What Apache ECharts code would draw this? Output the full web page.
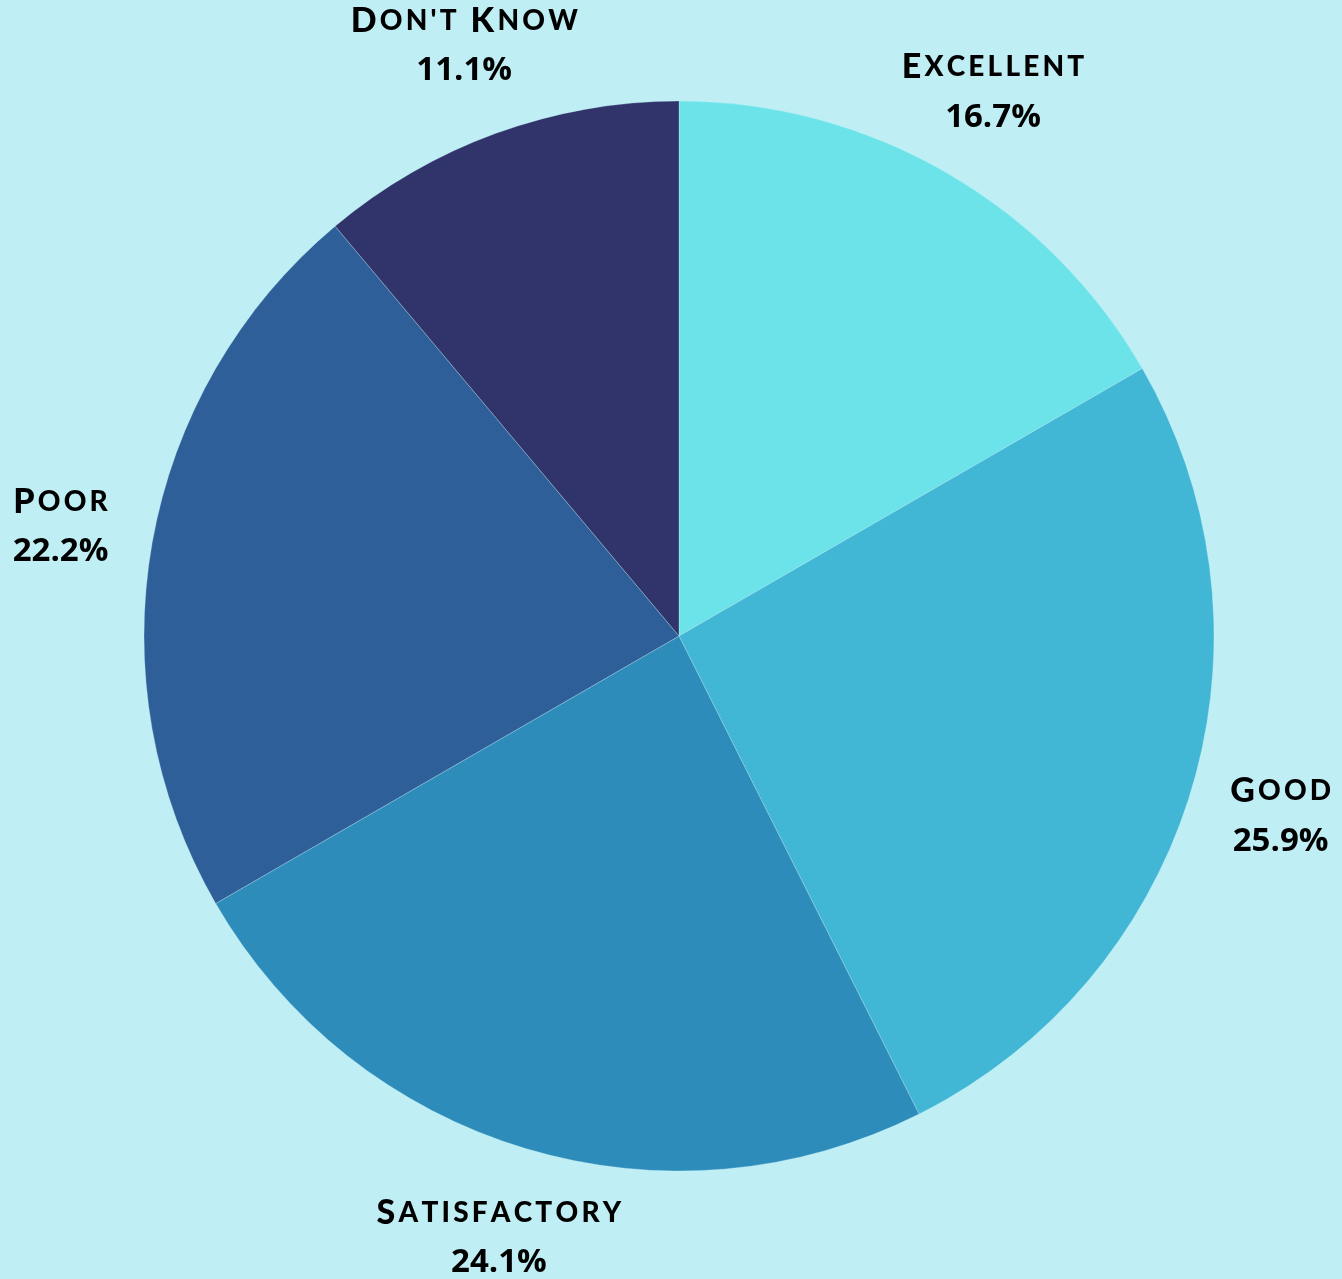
<!DOCTYPE html>
<html>
<head>
<meta charset="utf-8">
<script src="https://cdn.jsdelivr.net/npm/echarts@6/dist/echarts.min.js"></script>
<style>
  html, body { margin: 0; padding: 0; background: #BFEFF5; }
  #chart { width: 1342px; height: 1279px; }
</style>
</head>
<body>
<div id="chart"></div>
<script>
// Survey ratings (response counts)
const categories = ['Excellent', 'Good', 'Satisfactory', 'Poor', "Don't Know"];
const counts = [9, 14, 13, 12, 6];
const colors = ['#6BE3E8', '#42B6D5', '#2E8CBA', '#2E5F98', '#30346B'];

const total = counts.reduce((a, b) => a + b, 0);
const pieData = categories.map((name, i) => ({ name, value: counts[i] }));

// Render a name in spaced small caps: capitals large, lower case as smaller capitals
function smallCaps(text) {
  let out = '';
  for (const ch of text) {
    if (ch === ' ') { out += '{sp| }'; continue; }
    if (ch >= 'A' && ch <= 'Z') out += '{cap|' + ch + '}';
    else out += '{sc|' + ch.toUpperCase() + '}';
  }
  return out;
}

const NAME_FONT = 'Lato, "Open Sans", sans-serif';
const PCT_FONT = '"Open Sans", Lato, sans-serif';
const base = { color: '#000', lineHeight: 50 };
const chart = echarts.init(document.getElementById('chart'), null, { renderer: 'canvas' });
chart.setOption({
  backgroundColor: '#BFEFF5',
  animation: false,
  series: [
    {
      type: 'pie',
      center: [679, 636],
      radius: 535,
      startAngle: 90,
      clockwise: true,
      silent: true,
      data: pieData,
      color: colors,
      itemStyle: { borderColor: 'rgba(200,240,250,0.5)', borderWidth: 0.6 },
      label: { show: false },
      labelLine: { show: false }
    },
    {
      // invisible ring that carries the centred category labels
      type: 'pie',
      center: [679, 636],
      radius: [575, 675],
      startAngle: 90,
      clockwise: true,
      silent: true,
      data: pieData,
      itemStyle: { color: 'rgba(0,0,0,0)' },
      labelLine: { show: false },
      label: {
        show: true,
        position: 'inside',
        formatter: (p) => smallCaps(p.name) + '\n{pct|' + (p.value / total * 100).toFixed(1) + '%}',
        rich: {
          cap: Object.assign({ fontFamily: NAME_FONT, fontWeight: 900, fontSize: 34, padding: [0, 1.6] }, base),
          sc: Object.assign({ fontFamily: NAME_FONT, fontWeight: 900, fontSize: 28, padding: [0, 1.6] }, base),
          sp: Object.assign({ fontFamily: NAME_FONT, fontWeight: 900, fontSize: 20, padding: [0, 3] }, base),
          pct: Object.assign({ fontFamily: PCT_FONT, fontWeight: 700, fontSize: 33 }, base)
        }
      }
    }
  ]
});
</script>
</body>
</html>
